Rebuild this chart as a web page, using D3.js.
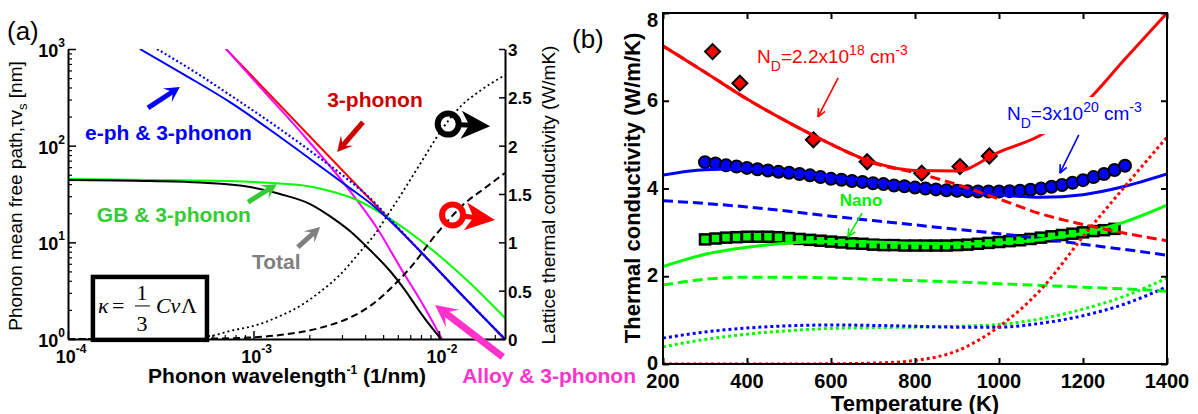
<!DOCTYPE html>
<html><head><meta charset="utf-8">
<script src="https://cdn.jsdelivr.net/npm/d3@7"></script>
<style>
html,body{margin:0;padding:0;background:#fff;}
svg{display:block;font-family:"Liberation Sans",Arial,Helvetica,sans-serif;}
</style></head><body>
<svg id="fig" width="1198" height="414"></svg>
<script>
// ================= Panel (a): phonon mean free path vs inverse wavelength =================
const wavenumberTicks = [1e-4, 1e-3, 1e-2];
const wavenumberExp = ["-4", "-3", "-2"];
const mfpTicks = [1, 10, 100, 1000];
const mfpExp = ["0", "1", "2", "3"];
const kappaCumTicks = [0, 0.5, 1, 1.5, 2, 2.5, 3];
const kappaCumLabels = ["0", "0.5", "1", "1.5", "2", "2.5", "3"];

// [1/wavelength (1/nm), mean free path (nm)]
const mfpThreePhonon = [[7.11e-4, 1000], [2.27e-2, 0.98]];
const mfpEphThreePhonon = [[2.44e-4,1000],[4.27e-4,537],[7.47e-4,282],[1.39e-3,123],[2.28e-3,61.5],[3.31e-3,36.4],[4.25e-3,25.5],[5.25e-3,17.8],[7.91e-3,8.13],[1.297e-2,2.99],[2.27e-2,1.0]];
const mfpEphOnlyLimit = [[3.02e-4,1000],[4.84e-4,577],[7.47e-4,334],[1.39e-3,148.5],[2.28e-3,74.4],[3.31e-3,43.0],[4.25e-3,28.7],[5.25e-3,18.7],[7.91e-3,8.13],[1.297e-2,2.99],[2.27e-2,1.0]];
const mfpAlloyThreePhonon = [[7.11e-4,1000],[1.124e-3,376],[1.895e-3,123],[3.19e-3,37.3],[4.63e-3,14.06],[6.40e-3,4.93],[8.10e-3,2.36],[1.038e-2,1.0]];
const mfpGBThreePhonon = [[1e-4,45.2],[2.77e-4,44.1],[7.47e-4,43.0],[1.78e-3,39.1],[2.58e-3,33.9],[3.61e-3,27.4],[5.25e-3,18.3],[8.94e-3,8.73],[1.469e-2,3.79],[2.27e-2,1.65]];
const mfpTotal = [[1e-4,44.1],[2.77e-4,43.0],[5.15e-4,41.5],[9.57e-4,37.3],[1.39e-3,31.6],[2.02e-3,24.9],[2.58e-3,18.7],[3.31e-3,13.1],[4.25e-3,8.32],[5.45e-3,5.05],[6.56e-3,3.21],[7.91e-3,1.90],[9.17e-3,1.30],[1.025e-2,1.0]];
// [1/wavelength (1/nm), cumulative lattice thermal conductivity (W/mK)]
const kappaCumPure = [[1e-4,0],[2.77e-4,0.005],[5.83e-4,0.031],[7.47e-4,0.083],[1.084e-3,0.155],[1.39e-3,0.238],[1.78e-3,0.341],[2.28e-3,0.486],[2.92e-3,0.662],[3.75e-3,0.900],[4.52e-3,1.086],[5.25e-3,1.272],[6.17e-3,1.479],[7.91e-3,1.810],[1.05e-2,2.182],[1.297e-2,2.399],[1.66e-2,2.565],[2.27e-2,2.730]];
const kappaCumAlloy = [[1e-4,0],[5.15e-4,0.003],[9.57e-4,0.016],[1.39e-3,0.041],[2.28e-3,0.114],[3.19e-3,0.207],[4.25e-3,0.341],[5.94e-3,0.589],[7.43e-3,0.796],[8.94e-3,1.003],[1.077e-2,1.189],[1.346e-2,1.386],[1.77e-2,1.562],[2.27e-2,1.717]];

// ================= Panel (b): thermal conductivity vs temperature =================
const tempTicks = [200, 400, 600, 800, 1000, 1200, 1400];
const kTicks = [0, 2, 4, 6, 8];
const tempGrid = [200, 300, 400, 500, 600, 700, 800, 900, 1000, 1100, 1200, 1300, 1400];

// N_D = 2.2e18 cm^-3
const kLowTotal     = [7.25, 6.65, 6.04, 5.50, 5.01, 4.60, 4.41, 4.40, 4.83, 5.22, 5.90, 6.95, 8.00];
const kLowLattice   = [7.25, 6.65, 6.04, 5.50, 5.01, 4.58, 4.36, 4.09, 3.76, 3.42, 3.18, 2.98, 2.81];
const kLowElectronic= [0, 0, 0, 0, 0.005, 0.02, 0.08, 0.30, 0.85, 1.70, 2.90, 4.05, 5.17];
const tempLowExp = [318, 383, 558, 686, 816, 907, 977];
const kLowExp    = [7.12, 6.40, 5.11, 4.61, 4.35, 4.50, 4.74];

// N_D = 3e20 cm^-3
const kHighTotal     = [4.31, 4.43, 4.45, 4.38, 4.28, 4.16, 4.05, 3.95, 3.86, 3.80, 3.86, 4.05, 4.33];
const kHighLattice   = [3.72, 3.66, 3.58, 3.48, 3.37, 3.27, 3.17, 3.07, 2.97, 2.86, 2.73, 2.61, 2.48];
const kHighElectronic= [0.59, 0.73, 0.82, 0.87, 0.89, 0.88, 0.86, 0.84, 0.84, 0.93, 1.10, 1.37, 1.76];
const tempHighExp = [300,325,350,375,400,425,450,475,500,525,550,575,600,625,650,675,700,725,750,775,800,825,850,875,900,925,950,975,1000,1025,1050,1075,1100,1125,1150,1175,1200,1225,1250,1275,1300];
const kHighExp    = [4.60,4.57,4.53,4.50,4.47,4.44,4.41,4.38,4.36,4.33,4.30,4.26,4.22,4.20,4.17,4.15,4.12,4.10,4.07,4.05,4.02,4.00,3.98,3.96,3.95,3.94,3.93,3.93,3.93,3.94,3.95,3.97,4.00,4.04,4.08,4.13,4.19,4.26,4.33,4.42,4.52];

// Nano
const kNanoTotal     = [2.22, 2.50, 2.66, 2.76, 2.79, 2.78, 2.75, 2.74, 2.76, 2.84, 2.98, 3.24, 3.62];
const kNanoLattice   = [1.80, 1.93, 1.98, 1.98, 1.96, 1.93, 1.90, 1.87, 1.83, 1.79, 1.75, 1.71, 1.66];
const kNanoElectronic= [0.39, 0.56, 0.68, 0.76, 0.81, 0.83, 0.84, 0.86, 0.90, 1.03, 1.25, 1.55, 1.96];
const tempNanoExp = [300,325,350,375,400,425,450,475,500,525,550,575,600,625,650,675,700,725,750,775,800,825,850,875,900,925,950,975,1000,1025,1050,1075,1100,1125,1150,1175,1200,1225,1250,1275];
const kNanoExp    = [2.84,2.86,2.88,2.89,2.90,2.90,2.90,2.89,2.87,2.85,2.83,2.81,2.79,2.77,2.75,2.74,2.72,2.71,2.71,2.70,2.70,2.70,2.70,2.70,2.71,2.72,2.74,2.76,2.78,2.80,2.82,2.85,2.88,2.91,2.94,2.97,3.00,3.03,3.05,3.08];

// ------------------------------------------------------------------
const svg = d3.select("#fig");
const defs = svg.append("defs");
const BLACK = "#000";

// ================= Panel (a) layout =================
const A = {l: 68, r: 505, t: 49, b: 339};
const xA = d3.scaleLog().domain([1e-4, 2.27e-2]).range([A.l, A.r]);
const yA = d3.scaleLog().domain([1, 1000]).range([A.b, A.t]);
const yAR = d3.scaleLinear().domain([0, 3]).range([A.b, A.t]);
const fa = (fx, fy) => [A.l + fx * (A.r - A.l), A.t + fy * (A.b - A.t)];

defs.append("clipPath").attr("id", "clipA").append("rect")
  .attr("x", A.l).attr("y", A.t).attr("width", A.r - A.l).attr("height", A.b - A.t);

const gA = svg.append("g");
const plotA = gA.append("g").attr("clip-path", "url(#clipA)");

const lineL = d3.line().x(d => xA(d[0])).y(d => yA(d[1])).curve(d3.curveMonotoneX);
const lineR = d3.line().x(d => xA(d[0])).y(d => yAR(d[1])).curve(d3.curveMonotoneX);

const curvesA = [
  {d: mfpThreePhonon, gen: lineL, color: "#ff0000", w: 2, dash: null},
  {d: mfpAlloyThreePhonon, gen: lineL, color: "#ff00ff", w: 2, dash: null},
  {d: mfpGBThreePhonon, gen: lineL, color: "#00ff00", w: 2, dash: null},
  {d: mfpTotal, gen: lineL, color: BLACK, w: 2, dash: null},
  {d: mfpEphOnlyLimit, gen: lineL, color: "#0000ff", w: 2.2, dash: "2,2.5"},
  {d: mfpEphThreePhonon, gen: lineL, color: "#0000ff", w: 2, dash: null},
  {d: kappaCumPure, gen: lineR, color: BLACK, w: 1.8, dash: "2,3"},
  {d: kappaCumAlloy, gen: lineR, color: BLACK, w: 2, dash: "7,4"}
];
curvesA.forEach(c => {
  plotA.append("path").attr("d", c.gen(c.d)).attr("fill", "none")
    .attr("stroke", c.color).attr("stroke-width", c.w)
    .attr("stroke-dasharray", c.dash);
});

// axes of panel (a)
function styleAxis(sel, w) {
  sel.selectAll("path.domain").attr("stroke", BLACK).attr("stroke-width", 2);
  sel.selectAll(".tick line").attr("stroke", BLACK).attr("stroke-width", w);
}
const mfpMinor = [];
[1, 10, 100].forEach(dec => { for (let m = 2; m <= 9; m++) mfpMinor.push(m * dec); });
const wnMinor = [];
[1e-4, 1e-3, 1e-2].forEach(dec => { for (let m = 2; m <= 9; m++) { const v = m * dec; if (v <= 2.27e-2) wnMinor.push(v); } });

const axL = gA.append("g").attr("transform", `translate(${A.l},0)`)
  .call(d3.axisLeft(yA).tickValues(mfpTicks).tickSizeInner(-8).tickSizeOuter(0).tickFormat(""));
styleAxis(axL, 1.5);
const axLm = gA.append("g").attr("transform", `translate(${A.l},0)`)
  .call(d3.axisLeft(yA).tickValues(mfpMinor).tickSizeInner(-4).tickSizeOuter(0).tickFormat(""));
axLm.select("path.domain").remove(); styleAxis(axLm, 1.2);

const axB = gA.append("g").attr("transform", `translate(0,${A.b})`)
  .call(d3.axisBottom(xA).tickValues(wavenumberTicks).tickSizeInner(-8).tickSizeOuter(0).tickFormat(""));
styleAxis(axB, 1.5);
const axBm = gA.append("g").attr("transform", `translate(0,${A.b})`)
  .call(d3.axisBottom(xA).tickValues(wnMinor).tickSizeInner(-4).tickSizeOuter(0).tickFormat(""));
axBm.select("path.domain").remove(); styleAxis(axBm, 1.2);

const axR = gA.append("g").attr("transform", `translate(${A.r},0)`)
  .call(d3.axisRight(yAR).tickValues(kappaCumTicks).tickSizeInner(-6).tickSizeOuter(0).tickFormat(""));
styleAxis(axR, 1.5);

// tick labels with powers of ten
mfpTicks.forEach((v, i) => {
  const t = gA.append("text").attr("x", A.l - 3).attr("y", yA(v) + 8)
    .attr("text-anchor", "end").attr("font-weight", "bold").attr("font-size", 18);
  t.append("tspan").text("10");
  t.append("tspan").attr("dy", -10).attr("font-size", 12).text(mfpExp[i]);
});
wavenumberTicks.forEach((v, i) => {
  const t = gA.append("text").attr("x", xA(v) + 3).attr("y", 363)
    .attr("text-anchor", "middle").attr("font-weight", "bold").attr("font-size", 18);
  t.append("tspan").text("10");
  t.append("tspan").attr("dy", -10).attr("font-size", 12).text(wavenumberExp[i]);
});
kappaCumTicks.forEach((v, i) => {
  gA.append("text").attr("x", A.r + 3).attr("y", yAR(v) + 7)
    .attr("font-weight", "bold").attr("font-size", 17).text(kappaCumLabels[i]);
});

// axis titles of panel (a)
{
  const t = gA.append("text").attr("x", 287).attr("y", 383).attr("text-anchor", "middle")
    .attr("font-weight", "bold").attr("font-size", 21);
  t.append("tspan").text("Phonon wavelength");
  t.append("tspan").attr("dy", -9).attr("font-size", 12).text("-1");
  t.append("tspan").attr("dy", 9).text(" (1/nm)");
}
{
  const t = gA.append("text").attr("transform", "translate(22,196) rotate(-90)")
    .attr("text-anchor", "middle").attr("font-size", 19);
  t.append("tspan").text("Phonon mean free path,\u03C4v");
  t.append("tspan").attr("dy", 5).attr("font-size", 13).text("s");
  t.append("tspan").attr("dy", -5).text(" [nm]");
}
gA.append("text").attr("transform", "translate(555,195) rotate(-90)")
  .attr("text-anchor", "middle").attr("font-size", 19)
  .text("Lattice thermal conductivity (W/mK)");

gA.append("text").attr("x", 7).attr("y", 40).attr("font-size", 26).text("(a)");

// formula box
{
  const [bx0, by0] = fa(0.057, 0.786), [bx1, by1] = fa(0.318, 1.003);
  gA.append("rect").attr("x", bx0).attr("y", by0).attr("width", bx1 - bx0).attr("height", by1 - by0)
    .attr("fill", "#fff").attr("stroke", BLACK).attr("stroke-width", 4.5);
  const f = gA.append("g").attr("font-family", "'Liberation Serif','Times New Roman',serif").attr("font-size", 22);
  f.append("text").attr("x", bx0 + 5).attr("y", by0 + 36).attr("font-style", "italic").text("\u03BA");
  f.append("text").attr("x", bx0 + 19).attr("y", by0 + 36).text("=");
  f.append("text").attr("x", bx0 + 49).attr("y", by0 + 23).attr("text-anchor", "middle").text("1");
  f.append("line").attr("x1", bx0 + 42).attr("x2", bx0 + 57).attr("y1", by0 + 29).attr("y2", by0 + 29)
    .attr("stroke", BLACK).attr("stroke-width", 1);
  f.append("text").attr("x", bx0 + 49).attr("y", by0 + 54).attr("text-anchor", "middle").text("3");
  f.append("text").attr("x", bx0 + 63).attr("y", by0 + 36).attr("font-style", "italic").text("Cv");
  f.append("text").attr("x", bx0 + 88).attr("y", by0 + 36).text("\u039B");
}

// block arrows with swept-back barbs
function blockArrow(g, p1, p2, color, w, hl, hw) {
  const [x1, y1] = p1, [x2, y2] = p2;
  const dx = x2 - x1, dy = y2 - y1, L = Math.hypot(dx, dy);
  const ux = dx / L, uy = dy / L, nx = -uy, ny = ux;
  const jx = x2 - ux * hl * 0.7, jy = y2 - uy * hl * 0.7;
  const bx = x2 - ux * hl, by = y2 - uy * hl;
  const pts = [
    [x1 + nx * w / 2, y1 + ny * w / 2], [jx + nx * w / 2, jy + ny * w / 2],
    [bx + nx * hw / 2, by + ny * hw / 2], [x2, y2],
    [bx - nx * hw / 2, by - ny * hw / 2], [jx - nx * w / 2, jy - ny * w / 2],
    [x1 - nx * w / 2, y1 - ny * w / 2]];
  g.append("polygon").attr("points", pts.map(p => p.join(",")).join(" ")).attr("fill", color);
}

const labelsA = [
  {text: "e-ph & 3-phonon", at: [0.039, 0.314], color: "#0000ff", tail: [0.183, 0.203], head: [0.256, 0.131], w: 5, hl: 15, hw: 16},
  {text: "3-phonon", at: [0.593, 0.200], color: "#cc0000", tail: [0.675, 0.252], head: [0.616, 0.355], w: 5, hl: 15, hw: 16},
  {text: "GB & 3-phonon", at: [0.066, 0.597], color: "#33cc33", tail: [0.412, 0.528], head: [0.478, 0.466], w: 5, hl: 15, hw: 16},
  {text: "Total", at: [0.421, 0.759], color: "#808080", tail: [0.526, 0.683], head: [0.577, 0.614], w: 5, hl: 15, hw: 16},
  {text: "Alloy & 3-phonon", at: [0.902, 1.152], color: "#ff33cc", tail: [0.995, 1.062], head: [0.840, 0.883], w: 7, hl: 22, hw: 22}
];
labelsA.forEach(l => {
  const [x, y] = fa(...l.at);
  gA.append("text").attr("x", x).attr("y", y).attr("fill", l.color)
    .attr("font-weight", "bold").attr("font-size", 21).text(l.text);
  blockArrow(gA, fa(...l.tail), fa(...l.head), l.color, l.w, l.hl, l.hw);
});

// ring-and-arrow markers pointing to the right axis
function ringArrow(g, c, tip, color) {
  const [cx, cy] = c, [tx, ty] = tip;
  const dx = tx - cx, dy = ty - cy, L = Math.hypot(dx, dy);
  const ux = dx / L, uy = dy / L, nx = -uy, ny = ux;
  g.append("circle").attr("cx", cx).attr("cy", cy).attr("r", 10.5)
    .attr("fill", "none").attr("stroke", color).attr("stroke-width", 6);
  const at = (s, n) => [cx + ux * s + nx * n, cy + uy * s + ny * n];
  g.append("line").attr("x1", at(12, 0)[0]).attr("y1", at(12, 0)[1])
    .attr("x2", at(24, 0)[0]).attr("y2", at(24, 0)[1]).attr("stroke", color).attr("stroke-width", 5);
  const pts = [at(L, 0), at(13, -14), at(21, 0), at(13, 14)];
  g.append("polygon").attr("points", pts.map(p => p.join(",")).join(" ")).attr("fill", color);
}
ringArrow(gA, fa(0.870, 0.259), fa(0.966, 0.266), BLACK);
ringArrow(gA, fa(0.880, 0.572), fa(0.977, 0.590), "#ff0000");

// ================= Panel (b) layout =================
const B = {l: 663, r: 1167, t: 13, b: 364};
const xB = d3.scaleLinear().domain([200, 1400]).range([B.l, B.r]);
const yB = d3.scaleLinear().domain([0, 8]).range([B.b, B.t]);
defs.append("clipPath").attr("id", "clipB").append("rect")
  .attr("x", B.l).attr("y", B.t).attr("width", B.r - B.l).attr("height", B.b - B.t);

const gB = svg.append("g");
const plotB = gB.append("g").attr("clip-path", "url(#clipB)");

// measured points
plotB.selectAll("rect.nano").data(tempNanoExp).join("rect").attr("class", "nano")
  .attr("x", (d, i) => xB(d) - 5).attr("y", (d, i) => yB(kNanoExp[i]) - 5)
  .attr("width", 10).attr("height", 10)
  .attr("fill", "#00ff00").attr("stroke", BLACK).attr("stroke-width", 2.5);
plotB.selectAll("circle.high").data(tempHighExp).join("circle").attr("class", "high")
  .attr("cx", d => xB(d)).attr("cy", (d, i) => yB(kHighExp[i])).attr("r", 6)
  .attr("fill", "#0000ff").attr("stroke", BLACK).attr("stroke-width", 2);
plotB.selectAll("path.low").data(tempLowExp).join("path").attr("class", "low")
  .attr("d", (d, i) => {
    const x = xB(d), y = yB(kLowExp[i]), s = 7.5;
    return `M${x},${y - s}L${x + s},${y}L${x},${y + s}L${x - s},${y}Z`;
  })
  .attr("fill", "#ff0000").attr("stroke", BLACK).attr("stroke-width", 2);

// model curves
const lineB = vals => d3.line().x((d, i) => xB(tempGrid[i])).y(d => yB(d)).curve(d3.curveMonotoneX)(vals);
const curvesB = [
  {v: kNanoElectronic, color: "#00ff00", dash: "3,3"},
  {v: kHighElectronic, color: "#0000ff", dash: "3,3"},
  {v: kNanoLattice, color: "#00ff00", dash: "10,5"},
  {v: kHighLattice, color: "#0000ff", dash: "10,5"},
  {v: kNanoTotal, color: "#00ff00", dash: null},
  {v: kHighTotal, color: "#0000ff", dash: null},
  {v: kLowElectronic, color: "#ff0000", dash: "3,3"},
  {v: kLowLattice, color: "#ff0000", dash: "10,5"},
  {v: kLowTotal, color: "#ff0000", dash: null}
];
curvesB.forEach(c => {
  plotB.append("path").attr("d", lineB(c.v)).attr("fill", "none")
    .attr("stroke", c.color).attr("stroke-width", 3).attr("stroke-dasharray", c.dash);
});

// frame with inward ticks
gB.append("rect").attr("x", B.l).attr("y", B.t).attr("width", B.r - B.l).attr("height", B.b - B.t)
  .attr("fill", "none").attr("stroke", BLACK).attr("stroke-width", 2);
const tickB = (axisGen, tr) => {
  const g = gB.append("g").attr("transform", tr).call(axisGen);
  g.select("path.domain").remove();
  g.selectAll(".tick line").attr("stroke", BLACK).attr("stroke-width", 2);
};
tickB(d3.axisBottom(xB).tickValues(tempTicks).tickSizeInner(-6).tickFormat(""), `translate(0,${B.b})`);
tickB(d3.axisTop(xB).tickValues(tempTicks).tickSizeInner(-6).tickFormat(""), `translate(0,${B.t})`);
tickB(d3.axisLeft(yB).tickValues(kTicks).tickSizeInner(-6).tickFormat(""), `translate(${B.l},0)`);
tickB(d3.axisRight(yB).tickValues(kTicks).tickSizeInner(-6).tickFormat(""), `translate(${B.r},0)`);

gB.selectAll("text.xt").data(tempTicks).join("text").attr("class", "xt")
  .attr("x", d => xB(d)).attr("y", 388).attr("text-anchor", "middle")
  .attr("font-weight", "bold").attr("font-size", 20).text(d => d);
gB.selectAll("text.yt").data(kTicks).join("text").attr("class", "yt")
  .attr("x", B.l - 5).attr("y", d => Math.max(yB(d) + 6, 27)).attr("text-anchor", "end")
  .attr("font-weight", "bold").attr("font-size", 20).text(d => d);

gB.append("text").attr("x", (B.l + B.r) / 2).attr("y", 411).attr("text-anchor", "middle")
  .attr("font-weight", "bold").attr("font-size", 22).text("Temperature (K)");
gB.append("text").attr("transform", "translate(640,188) rotate(-90)").attr("text-anchor", "middle")
  .attr("font-weight", "bold").attr("font-size", 22).text("Thermal conductivity (W/m/K)");
gB.append("text").attr("x", 572).attr("y", 48).attr("font-size", 26).text("(b)");

// doping labels
function dopingLabel(g, at, mant, exp, color, bg) {
  const x = xB(at[0]), y = yB(at[1]);
  if (bg) {
    g.append("rect").attr("x", x - 4).attr("y", y - 23).attr("width", 150).attr("height", 37).attr("fill", "#fff");
  }
  const t = g.append("text").attr("x", x).attr("y", y).attr("fill", color).attr("font-size", 19);
  t.append("tspan").text("N");
  t.append("tspan").attr("dy", 8).attr("font-size", 14).text("D");
  t.append("tspan").attr("dy", -8).text("=" + mant + "x10");
  t.append("tspan").attr("dy", -8).attr("font-size", 14).text(exp);
  t.append("tspan").attr("dy", 8).text(" cm");
  t.append("tspan").attr("dy", -8).attr("font-size", 14).text("-3");
}
function thinArrow(g, p1, p2, color) {
  const [x1, y1] = [xB(p1[0]), yB(p1[1])], [x2, y2] = [xB(p2[0]), yB(p2[1])];
  g.append("line").attr("x1", x1).attr("y1", y1).attr("x2", x2).attr("y2", y2)
    .attr("stroke", color).attr("stroke-width", 1.6);
  const a = Math.atan2(y2 - y1, x2 - x1), hl = 9, sp = 0.42;
  [a + Math.PI - sp, a + Math.PI + sp].forEach(b => {
    g.append("line").attr("x1", x2).attr("y1", y2)
      .attr("x2", x2 + hl * Math.cos(b)).attr("y2", y2 + hl * Math.sin(b))
      .attr("stroke", color).attr("stroke-width", 1.6);
  });
}
dopingLabel(gB, [424, 6.86], "2.2", "18", "#ff0000", false);
thinArrow(gB, [617, 6.52], [569, 5.63], "#ff0000");
dopingLabel(gB, [1019, 5.56], "3", "20", "#0000ff", true);
thinArrow(gB, [1190, 5.22], [1145, 4.35], "#0000ff");
gB.append("text").attr("x", xB(621)).attr("y", yB(3.60)).attr("fill", "#00ee00")
  .attr("font-weight", "bold").attr("font-size", 17).text("Nano");
thinArrow(gB, [674, 3.44], [640, 2.89], "#00ee00");
</script>
</body></html>
